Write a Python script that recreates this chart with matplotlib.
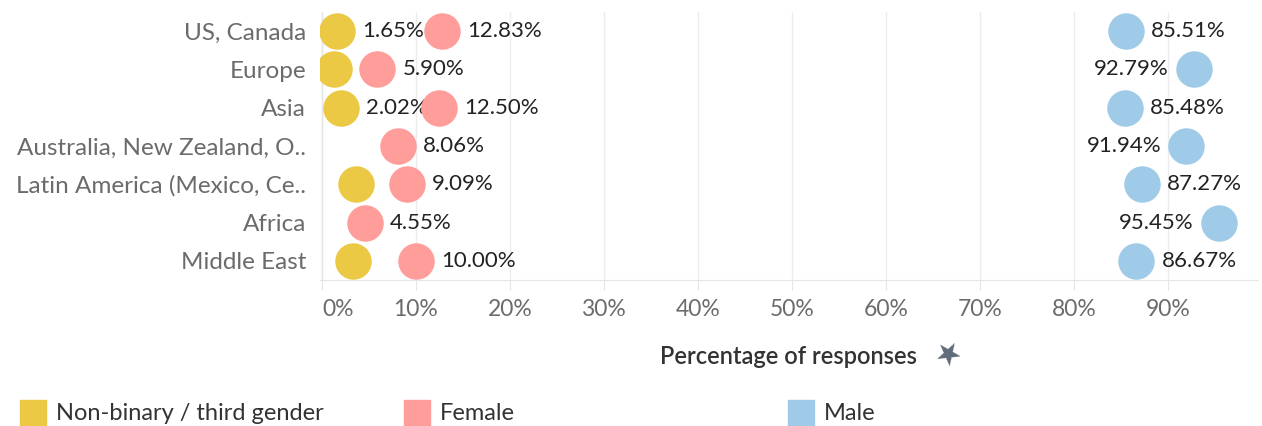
import numpy as np
import matplotlib.pyplot as plt
from matplotlib.patches import Rectangle

plt.rcParams['font.family'] = ['Lato', 'DejaVu Sans']

# data
regions = ['US, Canada', 'Europe', 'Asia', 'Australia, New Zealand, O..',
           'Latin America (Mexico, Ce..', 'Africa', 'Middle East']
nonbinary = [1.65, 1.31, 2.02, np.nan, 3.64, np.nan, 3.33]
female = [12.83, 5.90, 12.50, 8.06, 9.09, 4.55, 10.00]
male = [85.51, 92.79, 85.48, 91.94, 87.27, 95.45, 86.67]
nonbinary_shown = [True, False, True, False, False, False, False]
ticks = [0, 10, 20, 30, 40, 50, 60, 70, 80, 90]

c_nb = '#EBC944'
c_f = '#FF9D9A'
c_m = '#A0CBE8'

fig = plt.figure(figsize=(12.62, 4.26), dpi=100)
ax = fig.add_axes([320 / 1262, 1 - 280 / 426, (1258 - 320) / 1262, 268 / 426])

y = np.arange(len(regions))
s = 690
ax.scatter(female, y, s=s, color=c_f, zorder=3, linewidths=0)
ax.scatter(nonbinary, y, s=s, color=c_nb, zorder=3, linewidths=0)
ax.scatter(male, y, s=s, color=c_m, zorder=3, linewidths=0)

off = 18
fs = 16
for i in range(len(regions)):
    if nonbinary_shown[i]:
        ax.annotate(f'{nonbinary[i]:.2f}%', (nonbinary[i], y[i]), xytext=(off, 0),
                    textcoords='offset points', va='center', ha='left',
                    fontsize=fs, color='#222222', zorder=2)
    ax.annotate(f'{female[i]:.2f}%', (female[i], y[i]), xytext=(off, 0),
                textcoords='offset points', va='center', ha='left',
                fontsize=fs, color='#222222', zorder=4)
    if male[i] > 90:
        ax.annotate(f'{male[i]:.2f}%', (male[i], y[i]), xytext=(-off, 0),
                    textcoords='offset points', va='center', ha='right',
                    fontsize=fs, color='#222222', zorder=4)
    else:
        ax.annotate(f'{male[i]:.2f}%', (male[i], y[i]), xytext=(off, 0),
                    textcoords='offset points', va='center', ha='left',
                    fontsize=fs, color='#222222', zorder=4)

ax.set_xlim(-0.2, 99.6)
ax.set_ylim(len(regions) - 0.5, -0.5)
ax.set_yticks(y)
ax.set_yticklabels(regions, fontsize=17.5, color='#6b6b6b')
ax.set_xticks(ticks)
ax.set_xticklabels([f'{t}%' for t in ticks], fontsize=16.5, color='#6b6b6b')
ax.get_xticklabels()[0].set_horizontalalignment('left')
ax.tick_params(axis='y', length=0, pad=10)
ax.tick_params(axis='x', length=7, color='#e6e6e6', pad=7)
ax.grid(axis='x', color='#ececec', linewidth=1)
ax.set_axisbelow(True)
for side in ['top', 'right', 'left']:
    ax.spines[side].set_visible(False)
ax.spines['bottom'].set_color('#e6e6e6')
ax.axvline(0, color='#e6e6e6', linewidth=1, zorder=1)
ax.set_xlabel('Percentage of responses', fontsize=17, color='#333333',
              fontweight='semibold', labelpad=18)

# pin icon next to axis title
fig.text(946 / 1262, 1 - 355 / 426, '\u2605', fontsize=22, color='#5f6b7a',
         ha='center', va='center', rotation=-30, family=['DejaVu Sans'])

# legend
legend_items = [('Non-binary / third gender', c_nb, 20),
                ('Female', c_f, 404),
                ('Male', c_m, 788)]
for label, col, x0 in legend_items:
    fig.patches.append(Rectangle((x0 / 1262, 0), 26 / 1262, 26 / 426,
                                 transform=fig.transFigure, color=col))
    fig.text((x0 + 36) / 1262, 13 / 426, label, fontsize=17, color='#333333',
             va='center', ha='left')

fig.savefig('out.png', dpi=100)
